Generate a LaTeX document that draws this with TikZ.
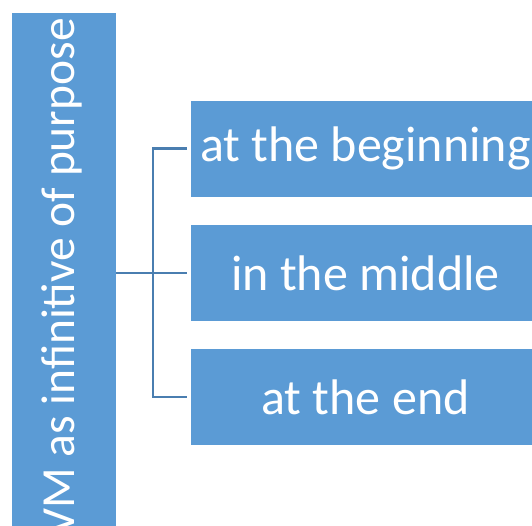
\documentclass[tikz,border=0pt]{standalone}
\usepackage{fontspec}
\setmainfont{Carlito}
\begin{document}
\begin{tikzpicture}[x=1pt,y=-1pt,
  blockbox/.style={fill=boxblue, draw=white, line width=0.8pt, text=white,
    inner sep=0pt, font=\fontsize{50}{60}\selectfont},
  linkline/.style={draw=lineblue, line width=2.4pt}]
\definecolor{boxblue}{HTML}{5B9BD5}
\definecolor{lineblue}{HTML}{4A7EB0}
\useasboundingbox (0,0) rectangle (532,526);
\clip (0,0) rectangle (532,526);
% main category box and its upward-running label
\node[blockbox, minimum width=105pt, minimum height=566pt]
  (vm) at (63.5,295) {};
\node[text=white, inner sep=0pt, rotate=90, font=\fontsize{47.5}{56}\selectfont]
  (vmtext) at (62,277) {VM as infinitive of purpose};
% the three positions
\node[blockbox, minimum width=351pt, minimum height=97pt]
  (beg) at (365.5,148.5) {at the beginning};
\node[blockbox, minimum width=351pt, minimum height=97pt]
  (mid) at (365.5,273) {in the middle};
\node[blockbox, minimum width=351pt, minimum height=97pt]
  (end) at (365.5,397) {at the end};
% bracket joining them
\coordinate (j) at (153,273);
\draw[linkline] (vm.east |- mid.west) -- ([xshift=-3pt]mid.west);
\draw[linkline] ([xshift=-3pt]beg.west) -- (beg.west -| j) -- (end.west -| j) -- ([xshift=-3pt]end.west);
\end{tikzpicture}
\end{document}
